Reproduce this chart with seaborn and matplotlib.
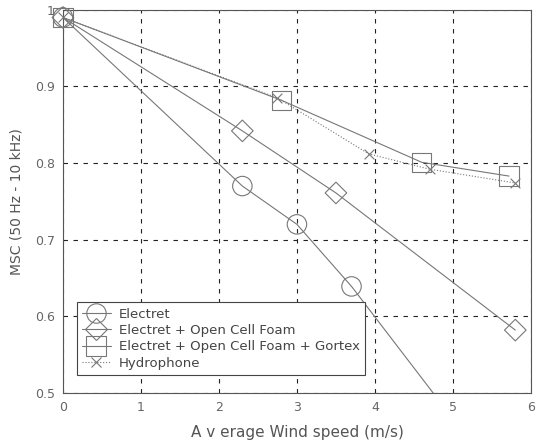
import matplotlib
matplotlib.use("Agg")
import matplotlib.pyplot as plt
from matplotlib.lines import Line2D
import seaborn as sns
import pandas as pd

sns.set_theme(style="white")
plt.rcParams['font.family'] = ['DejaVu Sans']

electret_x = [0, 2.3, 3.0, 3.7, 5.8]
electret_y = [0.99, 0.770, 0.720, 0.639, 0.360]
foam_x = [0, 2.3, 3.5, 5.8]
foam_y = [0.99, 0.842, 0.761, 0.582]
gortex_x = [0, 2.8, 4.6, 5.72]
gortex_y = [0.99, 0.882, 0.801, 0.783]
hydro_x = [0, 2.75, 3.92, 4.7, 5.8]
hydro_y = [0.99, 0.885, 0.812, 0.792, 0.774]

labels = ["Electret", "Electret + Open Cell Foam",
          "Electret + Open Cell Foam + Gortex", "Hydrophone"]
xticks = [0, 1, 2, 3, 4, 5, 6]
yticks = [0.5, 0.6, 0.7, 0.8, 0.9, 1.0]
ytick_labels = ["0.5", "0.6", "0.7", "0.8", "0.9", "1"]

frames = []
for lab, xs, ys in zip(labels, [electret_x, foam_x, gortex_x, hydro_x],
                       [electret_y, foam_y, gortex_y, hydro_y]):
    frames.append(pd.DataFrame({"speed": xs, "msc": ys, "series": lab}))
df = pd.concat(frames, ignore_index=True)

fig = plt.figure(figsize=(5.36, 4.46), dpi=100)
ax = fig.add_axes([0.1175, 0.119, 0.873, 0.859])

xmin, xmax, ymin, ymax = 0, 6, 0.5, 1.0

styles = {
    labels[0]: dict(marker="o", ls="-", ms=14),
    labels[1]: dict(marker="D", ls="-", ms=11),
    labels[2]: dict(marker="s", ls="-", ms=14),
    labels[3]: dict(marker="x", ls=":", ms=7),
}
gray = "#777777"
handles = []
for lab in labels:
    sub = df[df["series"] == lab]
    st = styles[lab]
    sns.lineplot(data=sub, x="speed", y="msc", ax=ax, color=gray,
                 lw=0.8, linestyle=st["ls"], sort=False, estimator=None,
                 legend=False)
    inside = sub[(sub["msc"] >= ymin) & (sub["msc"] <= ymax)]
    if st["marker"] == "x":
        sns.scatterplot(data=inside, x="speed", y="msc", ax=ax,
                        marker="x", s=st["ms"] ** 2, color=gray,
                        linewidth=0.8, clip_on=False, legend=False, zorder=3)
    else:
        sns.scatterplot(data=inside, x="speed", y="msc", ax=ax,
                        marker=st["marker"], s=st["ms"] ** 2,
                        facecolors="none", edgecolor=gray,
                        linewidth=0.8, clip_on=False, legend=False, zorder=3)
    handles.append(Line2D([], [], color=gray, lw=0.8, linestyle=st["ls"],
                          marker=st["marker"], markersize=st["ms"],
                          markerfacecolor="none", markeredgecolor=gray,
                          markeredgewidth=0.8, label=lab))

ax.set_xlim(xmin, xmax)
ax.set_ylim(ymin, ymax)
ax.set_xticks(xticks)
ax.set_yticks(yticks)
ax.set_yticklabels(ytick_labels)
ax.grid(True, color="#222222", linestyle=(0, (4, 5)), linewidth=0.8)
ax.set_axisbelow(True)
for s in ax.spines.values():
    s.set_color("#555555")
    s.set_linewidth(0.8)
ax.tick_params(axis="both", direction="in", length=3, colors="#555555",
               labelcolor="#666666", labelsize=9, pad=6)
ax.set_xlabel("A v erage Wind speed (m/s)", color="#555555", fontsize=11, labelpad=8)
ax.set_ylabel("MSC (50 Hz - 10 kHz)", color="#555555", fontsize=10, labelpad=8)

leg = ax.legend(handles=handles, loc="lower left", bbox_to_anchor=(0.015, 0.03),
                frameon=True, fancybox=False, edgecolor="#444444", fontsize=9.5,
                handlelength=2.2, borderpad=0.4, labelspacing=0.25,
                handletextpad=0.6, labelcolor="#444444", framealpha=1)
leg.get_frame().set_linewidth(0.8)
leg.set_zorder(5)

fig.savefig("out.png", dpi=100)
